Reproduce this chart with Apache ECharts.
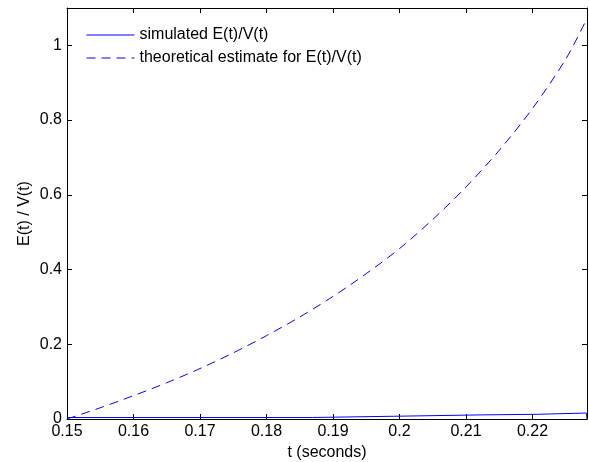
<!DOCTYPE html>
<html>
<head>
<meta charset="utf-8">
<script src="https://cdn.jsdelivr.net/npm/echarts@6/dist/echarts.min.js"></script>
<style>
html,body{margin:0;padding:0;background:#fff;}
#c{width:589px;height:462px;}
</style>
</head>
<body>
<div id="c"></div>
<script>
// Theoretical estimate (dashed)
var theoT = [0.150, 0.155, 0.160, 0.165, 0.170, 0.175, 0.180, 0.185, 0.190, 0.195, 0.200, 0.205, 0.210, 0.215, 0.220, 0.225, 0.2282];
var theoV = [0.000, 0.030, 0.0625, 0.097, 0.135, 0.177, 0.223, 0.273, 0.328, 0.389, 0.456, 0.534, 0.621, 0.719, 0.831, 0.963, 1.072];
// Simulated (step)
var simT = [0.150, 0.1869, 0.1869, 0.2016, 0.2016, 0.2124, 0.2124, 0.2208, 0.2208, 0.2281, 0.2282];
var simV = [0.004, 0.004, 0.008, 0.008, 0.011, 0.011, 0.0126, 0.0126, 0.016, 0.016, 0.000];
var seriesNames = ['simulated E(t)/V(t)', 'theoretical estimate for E(t)/V(t)'];
var xTitle = 't (seconds)';
var yTitle = 'E(t) / V(t)';

function zip(a, b) { return a.map(function (v, i) { return [v, b[i]]; }); }

var font = 'Liberation Sans, Arial, Helvetica, sans-serif';
var fs = 16;
var chart = echarts.init(document.getElementById('c'));
var xMin = 0.15, xMax = 0.2282, yMin = 0, yMax = 1.1;
var tickStyle = {show: true, inside: true, length: 5, lineStyle: {color: '#000', width: 1}};
var lineAxis = {show: true, onZero: false, lineStyle: {color: '#000', width: 1}};
chart.setOption({
  animation: false,
  textStyle: {fontFamily: font},
  grid: {left: 67, right: 2, top: 8, bottom: 43, containLabel: false, outerBoundsMode: 'none'},
  legend: {
    orient: 'vertical', left: 81, top: 22,
    itemWidth: 48, itemHeight: 14, itemGap: 7,
    itemStyle: {color: 'rgba(0,0,0,0)', borderWidth: 0, opacity: 0},
    lineStyle: {width: 1},
    textStyle: {fontSize: fs, color: '#000', fontFamily: font},
    data: seriesNames
  },
  xAxis: [{
    type: 'value', min: xMin, max: xMax, interval: 0.01,
    axisLine: lineAxis, axisTick: tickStyle, splitLine: {show: false},
    axisLabel: {color: '#000', fontSize: fs, margin: 5, showMaxLabel: false, fontFamily: font},
    name: xTitle, nameLocation: 'middle', nameGap: 26, nameMoveOverlap: false,
    nameTextStyle: {color: '#000', fontSize: fs, fontFamily: font}
  }, {
    type: 'value', position: 'top', min: xMin, max: xMax, interval: 0.01,
    axisLine: lineAxis, axisTick: tickStyle, splitLine: {show: false},
    axisLabel: {show: false}
  }],
  yAxis: [{
    type: 'value', min: yMin, max: yMax, interval: 0.2,
    axisLine: lineAxis, axisTick: tickStyle, splitLine: {show: false},
    axisLabel: {color: '#000', fontSize: fs, margin: 5, showMaxLabel: false, fontFamily: font},
    name: yTitle, nameLocation: 'middle', nameGap: 34, nameMoveOverlap: false,
    nameTextStyle: {color: '#000', fontSize: fs, fontFamily: font}
  }, {
    type: 'value', position: 'right', min: yMin, max: yMax, interval: 0.2,
    axisLine: lineAxis, axisTick: tickStyle, splitLine: {show: false},
    axisLabel: {show: false}
  }],
  series: [{
    name: seriesNames[0], type: 'line', showSymbol: false, symbol: 'none', z: 5,
    data: zip(simT, simV), lineStyle: {color: '#0000ff', width: 1}, itemStyle: {color: '#0000ff'}
  }, {
    name: seriesNames[1], type: 'line', showSymbol: false, symbol: 'none', smooth: 0.3,
    data: zip(theoT, theoV), lineStyle: {color: '#0000ff', width: 1, type: [9, 6]}, itemStyle: {color: '#0000ff'}
  }]
});
</script>
</body>
</html>
